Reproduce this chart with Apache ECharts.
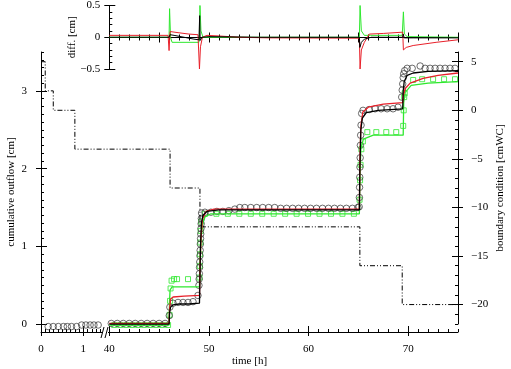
<!DOCTYPE html>
<html>
<head>
<meta charset="utf-8">
<script src="https://cdn.jsdelivr.net/npm/echarts@6/dist/echarts.min.js"></script>
<style>
html, body { margin: 0; padding: 0; background: #fff; }
#chart { width: 511px; height: 369px; }
</style>
</head>
<body>
<div id="chart"></div>
<script>
// broken time axis: 0..1.4 h is stretched at the left, 40..75 h uses the normal scale
var T0 = 33.145, K = 4.25;
function ux(t) { return t < 20 ? T0 + t * K : t; }

var xMajor = [0, 1, 40, 50, 60, 70];
var outflowTicks = [0, 1, 2, 3];
var bcTicks = [-20, -15, -10, -5, 0, 5];
var diffTicks = [-0.5, 0, 0.5];

// observed cumulative outflow (black circles)
var obsEarly = [[0.17,-0.03],[0.29,-0.03],[0.41,-0.03],[0.53,-0.03],[0.62,-0.03],[0.72,-0.03],[0.84,-0.03],
    [0.96,-0.01],[1.06,-0.01],[1.16,-0.01],[1.25,-0.01],[1.35,-0.01]];
var obs = [[40.2,0.01],[40.8,0.01],[41.4,0.01],[42.0,0.01],[42.6,0.01],[43.2,0.01],[43.8,0.01],[44.4,0.01],[45.0,0.01],[45.6,0.01],
    [46.02,0.11],[46.08,0.22],[46.4,0.27],[46.9,0.28],[47.4,0.28],[47.9,0.28],[48.4,0.29],[48.9,0.37],
    [49.0,0.5],[49.02,0.58],[49.04,0.65],[49.06,0.73],[49.08,0.8],[49.1,0.88],[49.12,0.95],[49.14,1.03],[49.16,1.1],[49.18,1.16],[49.2,1.23],[49.22,1.29],[49.24,1.36],[49.26,1.43],
    [49.6,1.44],[50.2,1.44],[50.8,1.45],[51.4,1.45],[52.0,1.46],[52.6,1.48],[53.1,1.5],[53.6,1.5],[54.2,1.5],[54.8,1.5],[55.4,1.5],[56.0,1.5],[56.6,1.5],
    [57.2,1.49],[57.8,1.49],[58.4,1.49],[59.0,1.49],[59.6,1.49],[60.2,1.49],[60.8,1.49],[61.4,1.49],[62.0,1.49],[62.6,1.49],[63.2,1.49],[63.8,1.49],[64.4,1.49],[64.95,1.5],
    [65.08,1.51],[65.1,1.63],[65.12,1.76],[65.14,1.89],[65.16,2.02],[65.18,2.14],[65.2,2.3],[65.23,2.43],[65.27,2.56],[65.33,2.71],
    [65.47,2.75],[66.08,2.76],[66.68,2.77],[67.28,2.77],[67.88,2.77],[68.48,2.77],[68.98,2.79],
    [69.35,2.92],[69.4,3.01],[69.45,3.09],[69.5,3.17],[69.55,3.22],[69.65,3.26],[69.9,3.29],[70.4,3.29],
    [71.2,3.32],[71.7,3.29],[72.2,3.29],[72.7,3.29],[73.2,3.29],[73.7,3.29],[74.2,3.29],[74.7,3.29]];

// second data set (green squares)
var obsGreen = [[40.5,-0.01],[41.1,-0.01],[41.7,-0.01],[42.3,-0.01],[42.9,-0.01],[43.5,-0.01],[44.1,-0.01],[44.7,-0.01],[45.3,-0.01],[45.9,-0.01],
    [46.05,0.12],[46.1,0.3],[46.15,0.46],[46.25,0.56],[46.5,0.58],[46.8,0.58],[47.9,0.58],
    [49.05,0.6],[49.08,0.75],[49.11,0.9],[49.14,1.05],[49.17,1.2],[49.22,1.32],
    [49.6,1.42],[50.75,1.42],[51.9,1.42],[53.05,1.42],[54.2,1.42],[55.35,1.42],[56.5,1.42],[57.65,1.42],[58.8,1.42],[59.95,1.42],[61.1,1.42],[62.25,1.42],[63.4,1.42],[64.55,1.42],
    [65.12,1.6],[65.17,1.85],[65.22,2.05],[65.3,2.25],[65.45,2.35],
    [65.9,2.47],[66.8,2.47],[67.8,2.47],[68.8,2.47],
    [69.5,2.55],[69.55,2.75],[69.6,2.92],[69.65,2.97],
    [70.5,3.14],[71.4,3.15],[72.5,3.15],[73.6,3.15],[74.7,3.15]];

// simulated outflow
var simBlack = [[40,0.0],[46.0,0.0],[46.05,0.15],[46.15,0.22],[46.4,0.25],[47,0.26],[48,0.26],[49.05,0.27],[49.1,0.6],[49.15,1.0],[49.25,1.3],[49.4,1.4],[49.8,1.45],[51,1.47],
    [65.1,1.47],[65.15,2.0],[65.25,2.5],[65.4,2.65],[65.8,2.72],[67,2.75],[69.45,2.77],[69.5,3.0],[69.6,3.12],[69.9,3.2],[70.5,3.23],[72,3.25],[75,3.26]];
var simRed = [[40,0.01],[46.0,0.01],[46.05,0.2],[46.15,0.32],[46.4,0.35],[47.5,0.36],[49.05,0.37],[49.1,0.7],[49.2,1.1],[49.35,1.35],[49.7,1.45],[50.5,1.48],
    [65.1,1.48],[65.15,2.1],[65.25,2.55],[65.45,2.73],[66,2.79],[67.5,2.83],[69.45,2.85],[69.5,2.93],[69.7,3.03],[70.2,3.1],[71.5,3.16],[73,3.2],[75,3.23]];
var simGreen = [[40,-0.01],[46.0,-0.01],[46.05,0.3],[46.1,0.44],[46.3,0.48],[49.05,0.48],[49.1,0.8],[49.2,1.1],[49.35,1.3],[49.6,1.38],[50.2,1.42],[52,1.42],
    [65.1,1.42],[65.15,1.9],[65.25,2.25],[65.5,2.38],[66.5,2.43],[69.5,2.43],[69.55,2.85],[69.7,2.98],[70.3,3.07],[72,3.1],[75,3.12]];

// boundary condition [cmWC], value holds until the next point
var boundary = [[0,5],[0.1,2],[0.29,0],[0.8,-4],[46.1,-8],[49.1,-12],[65.15,-16],[69.4,-20],[75,-20]];

// differences (top panel)
var diffBlack = [[40,0],[46.0,0],[46.1,0.04],[46.5,0.03],[47.5,0.0],[48.5,-0.03],[49.0,-0.04],[49.07,0.34],[49.12,-0.05],[49.3,0.0],[50,0.01],[55,0.0],
    [65.1,0.0],[65.15,-0.16],[65.3,-0.08],[65.6,-0.03],[66.3,0.0],[69.45,0.0],[69.5,0.05],[69.6,-0.01],[70.5,-0.01],[75,-0.01]];
var diffRed = [[40,0.03],[45.9,0.03],[46.0,-0.21],[46.1,0.09],[47,0.07],[48,0.05],[48.9,0.04],[49.05,-0.5],[49.15,-0.15],[49.35,0.0],[49.8,0.03],[51,0.02],[53,0.0],[56,-0.01],
    [65.1,-0.015],[65.17,-0.5],[65.3,-0.2],[65.6,-0.08],[66.1,0.05],[67.5,0.06],[69.45,0.08],[69.52,-0.2],[69.8,-0.16],[70.5,-0.13],[72.8,-0.08],[75,-0.04]];
var diffGreen = [[40,0],[46.0,0],[46.05,0.45],[46.15,0.0],[46.3,-0.08],[49.0,-0.08],[49.05,0.0],[49.1,0.5],[49.2,0.1],[49.4,0.0],
    [65.1,0.0],[65.17,0.5],[65.3,0.1],[65.6,0.03],[66.2,0.03],[69.4,0.03],[69.52,0.4],[69.62,0.05],[69.9,0.01],[75,0.0]];

var FONT = 'Liberation Serif';
var RED = '#e8202a', GREEN = '#2ee82e';

function mapT(arr) { return arr.map(function (p) { return [ux(p[0]), p[1]]; }); }
function minus(v) { return String(v).replace('-', '\u2212'); }

// tick positions
var xMinor = [], yMinor = [], bcMinor = [], dyMinor = [], zeroTicks = [];
for (var i = 1; i <= 14; i++) xMinor.push(ux(i / 10));
for (var i = 41; i <= 75; i++) xMinor.push(i);
for (var i = -1; i <= 35; i++) yMinor.push(i / 10);
for (var i = -22; i <= 6; i++) bcMinor.push(i);
for (var i = -5; i <= 5; i++) dyMinor.push(i / 10);
for (var i = 40; i <= 75; i++) zeroTicks.push([i, 0]);

var txt = {fontFamily: FONT, fontSize: 11, color: '#000'};
var blk = {color: '#000', width: 1};

function axis(base, extra) {
    var a = {type: 'value', splitLine: {show: false}, axisLine: {show: false, onZero: false},
        axisTick: {show: false}, axisLabel: {show: false}, nameMoveOverlap: false};
    for (var k in base) a[k] = base[k];
    for (var k in extra) a[k] = extra[k];
    return a;
}
function ticks(values, inside, len) {
    return {show: true, inside: inside, length: len, customValues: values, lineStyle: blk};
}

// zero line of the diff panel with ticks crossing it (every hour, longer every 5 h)
function zeroAxis(params, api) {
    var p = api.coord([api.value(0), 0]);
    var x = Math.round(p[0]) + 0.5, y = Math.round(p[1]) + 0.5;
    var h = api.value(0) % 5 === 0 ? 5 : 3;
    var children = [{type: 'line', shape: {x1: x, y1: y - h, x2: x, y2: y + h}, style: {stroke: '#000', lineWidth: 1}}];
    if (params.dataIndex === 0) {
        var e = api.coord([75, 0]);
        children.push({type: 'line', shape: {x1: p[0], y1: y, x2: e[0], y2: y}, style: {stroke: '#000', lineWidth: 1}});
    }
    return {type: 'group', children: children};
}

var gx = {gridIndex: 0, min: T0, max: 75, position: 'bottom'};
var gy = {gridIndex: 0, min: -0.1, max: 3.5, position: 'left'};
var by = {gridIndex: 1, min: -22, max: 6, position: 'right'};
var dy = {gridIndex: 2, min: -0.5, max: 0.5, position: 'left'};

var option = {
    animation: false,
    backgroundColor: '#fff',
    grid: [
        {left: 41, right: 53, top: 52, bottom: 37, outerBoundsMode: 'none'},
        {left: 41, right: 53, top: 52, height: 272, outerBoundsMode: 'none'},
        {left: 109.3, right: 53, top: 5.5, height: 63.5, outerBoundsMode: 'none'}
    ],
    xAxis: [
        axis(gx, {
            axisLine: {show: true, onZero: false, lineStyle: blk},
            axisTick: ticks(xMajor.map(ux), true, 6),
            axisLabel: {show: true, customValues: xMajor.map(ux), margin: 12, fontFamily: FONT, fontSize: 11, color: '#000',
                formatter: function (v) { return v < 39 ? String(Math.round((v - T0) / K)) : String(Math.round(v)); }},
            name: 'time [h]', nameLocation: 'middle', nameGap: 24, nameTextStyle: txt
        }),
        axis(gx, {axisTick: ticks(xMajor.map(ux), false, 4)}),
        axis(gx, {axisTick: ticks(xMinor, true, 3)}),
        axis({gridIndex: 1, min: T0, max: 75, position: 'bottom'}, {show: false}),
        axis({gridIndex: 2, min: 40, max: 75, position: 'bottom'}, {show: false})
    ],
    yAxis: [
        axis(gy, {
            axisLine: {show: true, onZero: false, lineStyle: blk},
            axisTick: ticks(outflowTicks, true, 6),
            axisLabel: {show: true, customValues: outflowTicks, margin: 14, fontFamily: FONT, fontSize: 11, color: '#000'},
            name: 'cumulative outflow [cm]', nameLocation: 'middle', nameGap: 24, nameTextStyle: txt
        }),
        axis(gy, {axisTick: ticks(outflowTicks, false, 5)}),
        axis(gy, {axisTick: ticks(yMinor, true, 3)}),
        axis(by, {
            axisLine: {show: true, onZero: false, lineStyle: blk},
            axisTick: ticks(bcTicks, true, 6),
            axisLabel: {show: true, customValues: bcTicks, margin: 13, fontFamily: FONT, fontSize: 11, color: '#000', formatter: minus},
            name: 'boundary condition [cmWC]', nameLocation: 'middle', nameGap: 37, nameTextStyle: txt
        }),
        axis(by, {axisTick: ticks(bcTicks, false, 5)}),
        axis(by, {axisTick: ticks(bcMinor, true, 3)}),
        axis(dy, {
            axisLine: {show: true, onZero: false, lineStyle: blk},
            axisTick: ticks(diffTicks, true, 6),
            axisLabel: {show: true, customValues: diffTicks, margin: 9, fontFamily: FONT, fontSize: 11, color: '#000', formatter: minus},
            name: 'diff. [cm]', nameLocation: 'middle', nameGap: 32, nameTextStyle: txt
        }),
        axis(dy, {axisTick: ticks(diffTicks, false, 5)}),
        axis(dy, {axisTick: ticks(dyMinor, true, 3)})
    ],
    series: [
        {type: 'line', xAxisIndex: 3, yAxisIndex: 3, step: 'end', symbol: 'none', data: mapT(boundary),
            lineStyle: {color: '#000', width: 1, type: [5, 2, 1, 2, 1, 2]}},
        {type: 'line', xAxisIndex: 0, yAxisIndex: 0, symbol: 'none', data: simGreen, lineStyle: {color: GREEN, width: 1.3}},
        {type: 'line', xAxisIndex: 0, yAxisIndex: 0, symbol: 'none', data: simRed, lineStyle: {color: RED, width: 1.3}},
        {type: 'line', xAxisIndex: 0, yAxisIndex: 0, symbol: 'none', data: simBlack, lineStyle: {color: '#000', width: 1.3}},
        {type: 'scatter', xAxisIndex: 0, yAxisIndex: 0, symbol: 'rect', symbolSize: 5, data: obsGreen,
            itemStyle: {color: 'rgba(0,0,0,0)', borderColor: GREEN, borderWidth: 1}},
        {type: 'scatter', xAxisIndex: 0, yAxisIndex: 0, symbol: 'circle', symbolSize: 6.5, data: mapT(obsEarly).concat(obs),
            itemStyle: {color: 'rgba(0,0,0,0)', borderColor: '#333', borderWidth: 0.9}},
        {type: 'custom', xAxisIndex: 4, yAxisIndex: 6, renderItem: zeroAxis, data: zeroTicks, silent: true, clip: false, z: 1},
        {type: 'line', xAxisIndex: 4, yAxisIndex: 6, symbol: 'none', data: diffGreen, lineStyle: {color: GREEN, width: 1}},
        {type: 'line', xAxisIndex: 4, yAxisIndex: 6, symbol: 'none', data: diffRed, lineStyle: {color: RED, width: 1}},
        {type: 'line', xAxisIndex: 4, yAxisIndex: 6, symbol: 'none', data: diffBlack, lineStyle: {color: '#000', width: 1}}
    ],
    graphic: [
        {type: 'rect', z: 100, shape: {x: 102, y: 329, width: 6, height: 6}, style: {fill: '#fff'}},
        {type: 'line', z: 101, shape: {x1: 101, y1: 338, x2: 104, y2: 327}, style: {stroke: '#000', lineWidth: 1}},
        {type: 'line', z: 101, shape: {x1: 105, y1: 338, x2: 108, y2: 327}, style: {stroke: '#000', lineWidth: 1}}
    ]
};

var chart = echarts.init(document.getElementById('chart'));
chart.setOption(option);
</script>
</body>
</html>
